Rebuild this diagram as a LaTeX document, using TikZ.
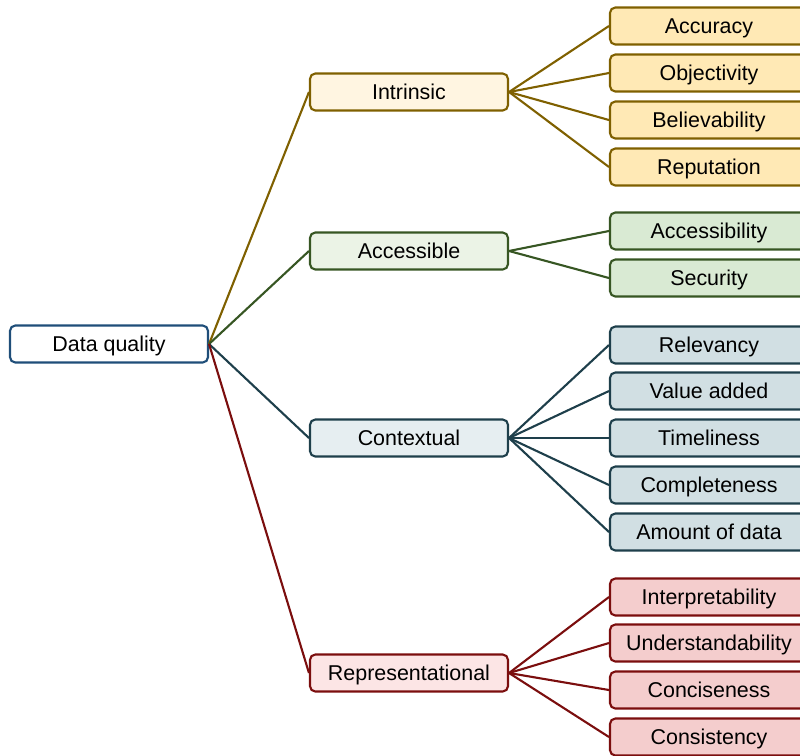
\documentclass[tikz,border=0pt]{standalone}
\usepackage{fontspec}
\setmainfont{Liberation Sans}
\usetikzlibrary{positioning}

\definecolor{dqline}{HTML}{1F4E79}
\definecolor{inline}{HTML}{7F6000}
\definecolor{inpar}{HTML}{FFF5E1}
\definecolor{inleaf}{HTML}{FFE9B5}
\definecolor{acline}{HTML}{375623}
\definecolor{acpar}{HTML}{EBF3E6}
\definecolor{acleaf}{HTML}{D9EAD3}
\definecolor{coline}{HTML}{1E3F4B}
\definecolor{copar}{HTML}{E6EEF1}
\definecolor{coleaf}{HTML}{D1DFE3}
\definecolor{reline}{HTML}{7B0E0E}
\definecolor{repar}{HTML}{FCE5E5}
\definecolor{releaf}{HTML}{F4CDCD}

\tikzset{
  box/.style={draw, rounded corners=3pt, line width=1.2pt, minimum width=3.96cm,
    minimum height=0.74cm, inner sep=0pt, text height=0.9em, text depth=0pt,
    font=\fontsize{12.2}{14}\selectfont},
  link/.style={line width=1.2pt},
}

\begin{document}
\begin{tikzpicture}[x=0.02cm, y=-0.02cm]
    \useasboundingbox (0,0) rectangle (800,755);
    % root and the four groups
    \node[box, draw=dqline, fill=white] (dq) at (109,344) {Data quality};
    \node[box, draw=inline, fill=inpar] (intr) at (409,92) {Intrinsic};
    \node[box, draw=acline, fill=acpar] (accs) at (409,251) {Accessible};
    \node[box, draw=coline, fill=copar] (ctxt) at (409,438) {Contextual};
    \node[box, draw=reline, fill=repar] (repr) at (409,673) {Representational};
    \draw[link, inline] (dq.east) -- (intr.west);
    \draw[link, acline] (dq.east) -- (accs.west);
    \draw[link, coline] (dq.east) -- (ctxt.west);
    \draw[link, reline] (dq.east) -- (repr.west);
    % leaves of each group
    \foreach \name/\txt/\y in {accu/Accuracy/26, obje/Objectivity/73,
        beli/Believability/120, repu/Reputation/167}{
        \node[box, draw=inline, fill=inleaf] (\name) at (709,\y) {\txt};
        \draw[link, inline] (intr.east) -- (\name.west);
    }
    \foreach \name/\txt/\y in {acce/Accessibility/231, secu/Security/278}{
        \node[box, draw=acline, fill=acleaf] (\name) at (709,\y) {\txt};
        \draw[link, acline] (accs.east) -- (\name.west);
    }
    \foreach \name/\txt/\y in {rele/Relevancy/345, vala/Value added/391,
        time/Timeliness/438, comp/Completeness/485, amou/Amount of data/532}{
        \node[box, draw=coline, fill=coleaf] (\name) at (709,\y) {\txt};
        \draw[link, coline] (ctxt.east) -- (\name.west);
    }
    \foreach \name/\txt/\y in {inte/Interpretability/597, unde/Understandability/643,
        conc/Conciseness/690, cons/Consistency/737}{
        \node[box, draw=reline, fill=releaf] (\name) at (709,\y) {\txt};
        \draw[link, reline] (repr.east) -- (\name.west);
    }
\end{tikzpicture}
\end{document}
